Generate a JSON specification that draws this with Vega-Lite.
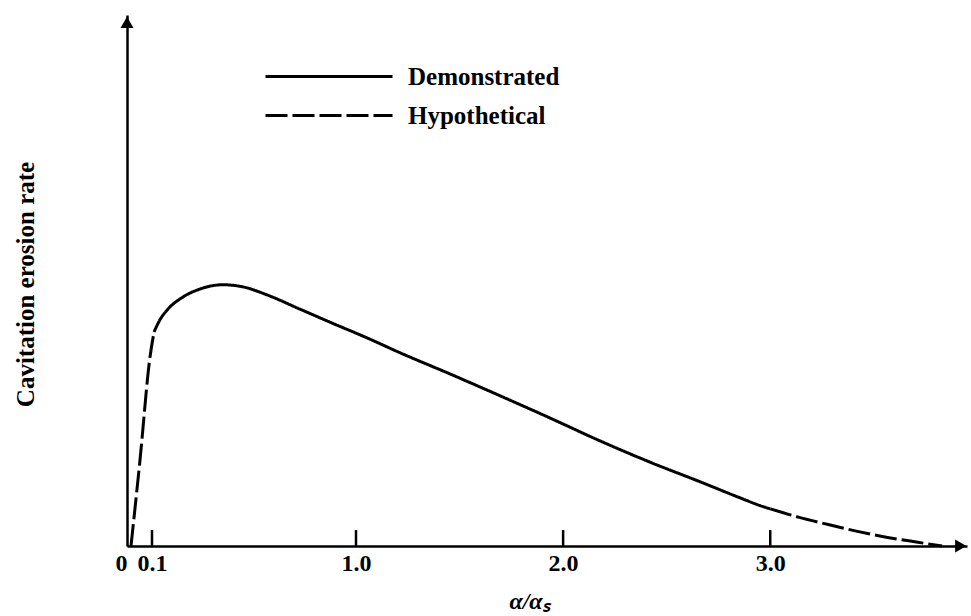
{
  "$schema": "https://vega.github.io/schema/vega-lite/v6.json",
  "width": 840,
  "height": 531,
  "autosize": {"type": "none"},
  "padding": {"left": 127, "top": 15, "right": 4, "bottom": 70},
  "background": "white",
  "config": {
    "view": {"stroke": null},
    "font": "Liberation Serif",
    "axis": {
      "domainColor": "black",
      "domainWidth": 2.5,
      "grid": false,
      "ticks": false,
      "labelColor": "black",
      "titleColor": "black",
      "labelFont": "Liberation Serif",
      "titleFont": "Liberation Serif",
      "labelFontWeight": "bold",
      "titleFontWeight": "bold"
    },
    "legend": {
      "labelFont": "Liberation Serif",
      "labelFontWeight": "bold",
      "labelColor": "black"
    }
  },
  "datasets": {
    "curve": [
      {"x": 0.016, "y": 0.0, "kind": "Hypothetical", "seg": "rise"},
      {"x": 0.052, "y": 1.62, "kind": "Hypothetical", "seg": "rise"},
      {"x": 0.092, "y": 3.56, "kind": "Hypothetical", "seg": "rise"},
      {"x": 0.109, "y": 4.03, "kind": "Hypothetical", "seg": "rise"},
      {"x": 0.109, "y": 4.03, "kind": "Demonstrated", "seg": "main"},
      {"x": 0.135, "y": 4.26, "kind": "Demonstrated", "seg": "main"},
      {"x": 0.166, "y": 4.44, "kind": "Demonstrated", "seg": "main"},
      {"x": 0.237, "y": 4.69, "kind": "Demonstrated", "seg": "main"},
      {"x": 0.312, "y": 4.84, "kind": "Demonstrated", "seg": "main"},
      {"x": 0.413, "y": 4.92, "kind": "Demonstrated", "seg": "main"},
      {"x": 0.501, "y": 4.88, "kind": "Demonstrated", "seg": "main"},
      {"x": 0.607, "y": 4.73, "kind": "Demonstrated", "seg": "main"},
      {"x": 0.753, "y": 4.46, "kind": "Demonstrated", "seg": "main"},
      {"x": 0.899, "y": 4.19, "kind": "Demonstrated", "seg": "main"},
      {"x": 1.053, "y": 3.92, "kind": "Demonstrated", "seg": "main"},
      {"x": 1.212, "y": 3.64, "kind": "Demonstrated", "seg": "main"},
      {"x": 1.454, "y": 3.24, "kind": "Demonstrated", "seg": "main"},
      {"x": 1.695, "y": 2.83, "kind": "Demonstrated", "seg": "main"},
      {"x": 1.937, "y": 2.41, "kind": "Demonstrated", "seg": "main"},
      {"x": 2.178, "y": 1.98, "kind": "Demonstrated", "seg": "main"},
      {"x": 2.419, "y": 1.58, "kind": "Demonstrated", "seg": "main"},
      {"x": 2.661, "y": 1.21, "kind": "Demonstrated", "seg": "main"},
      {"x": 2.82, "y": 0.96, "kind": "Demonstrated", "seg": "main"},
      {"x": 2.975, "y": 0.73, "kind": "Demonstrated", "seg": "main"},
      {"x": 3.0, "y": 0.7, "kind": "Demonstrated", "seg": "main"},
      {"x": 3.0, "y": 0.7, "kind": "Hypothetical", "seg": "tail"},
      {"x": 3.14, "y": 0.54, "kind": "Hypothetical", "seg": "tail"},
      {"x": 3.285, "y": 0.4, "kind": "Hypothetical", "seg": "tail"},
      {"x": 3.415, "y": 0.28, "kind": "Hypothetical", "seg": "tail"},
      {"x": 3.541, "y": 0.18, "kind": "Hypothetical", "seg": "tail"},
      {"x": 3.705, "y": 0.075, "kind": "Hypothetical", "seg": "tail"},
      {"x": 3.83, "y": 0.0, "kind": "Hypothetical", "seg": "tail"}
    ],
    "ticks": [{"x": 0.1}, {"x": 1.0}, {"x": 2.0}, {"x": 3.0}]
  },
  "layer": [
    {
      "data": {"name": "curve"},
      "mark": {"type": "line", "color": "black", "strokeWidth": 3, "interpolate": "monotone"},
      "encoding": {
        "x": {
          "field": "x",
          "type": "quantitative",
          "scale": {"domain": [0, 0.1, 1, 3.95], "range": [0, 25, 229, 840], "nice": false, "zero": false},
          "axis": {
            "values": [0, 0.1, 1, 2, 3],
            "labelExpr": "datum.value == 0 ? '0' : format(datum.value, '.1f')",
            "labelAlign": {"expr": "datum.value == 0 ? 'right' : 'center'"},
            "labelFontSize": 24,
            "labelPadding": 5,
            "labelOverlap": false,
            "labelFlush": false,
            "title": "α/αₛ",
            "titleFontSize": 24,
            "titleFontStyle": "italic",
            "titleX": 402,
            "titleY": 62,
            "titleAlign": "center",
            "titleBaseline": "alphabetic"
          }
        },
        "y": {
          "field": "y",
          "type": "quantitative",
          "scale": {"domain": [0, 10], "nice": false},
          "axis": {
            "labels": false,
            "title": "Cavitation erosion rate",
            "titleFontSize": 25,
            "titleAngle": -90,
            "titleX": -94,
            "titleY": 269,
            "titleAlign": "center",
            "titleBaseline": "alphabetic"
          }
        },
        "detail": {"field": "seg"},
        "strokeDash": {
          "field": "kind",
          "type": "nominal",
          "scale": {"domain": ["Demonstrated", "Hypothetical"], "range": [[1, 0], [22, 5]]},
          "legend": {
            "orient": "none",
            "legendX": 189.5,
            "legendY": 49,
            "title": null,
            "symbolType": "M-6.35,0H6.35",
            "symbolSize": 400,
            "symbolStrokeWidth": 3,
            "symbolStrokeColor": "black",
            "labelFontSize": 25,
            "labelOffset": 66.5,
            "rowPadding": 13,
            "padding": 0
          }
        }
      }
    },
    {
      "data": {"name": "ticks"},
      "mark": {"type": "rule", "color": "black", "strokeWidth": 2.5},
      "encoding": {
        "x": {"field": "x", "type": "quantitative"},
        "y": {"datum": 0, "type": "quantitative"},
        "y2": {"datum": 0.3}
      }
    },
    {
      "data": {"values": [{}]},
      "mark": {"type": "point", "shape": "triangle-right", "filled": true, "color": "black", "opacity": 1, "size": 170},
      "encoding": {
        "x": {"datum": 3.92, "type": "quantitative"},
        "y": {"datum": 0, "type": "quantitative"}
      }
    },
    {
      "data": {"values": [{}]},
      "mark": {"type": "point", "shape": "triangle-up", "filled": true, "color": "black", "opacity": 1, "size": 170},
      "encoding": {
        "x": {"datum": 0, "type": "quantitative"},
        "y": {"datum": 9.86, "type": "quantitative"}
      }
    }
  ]
}
